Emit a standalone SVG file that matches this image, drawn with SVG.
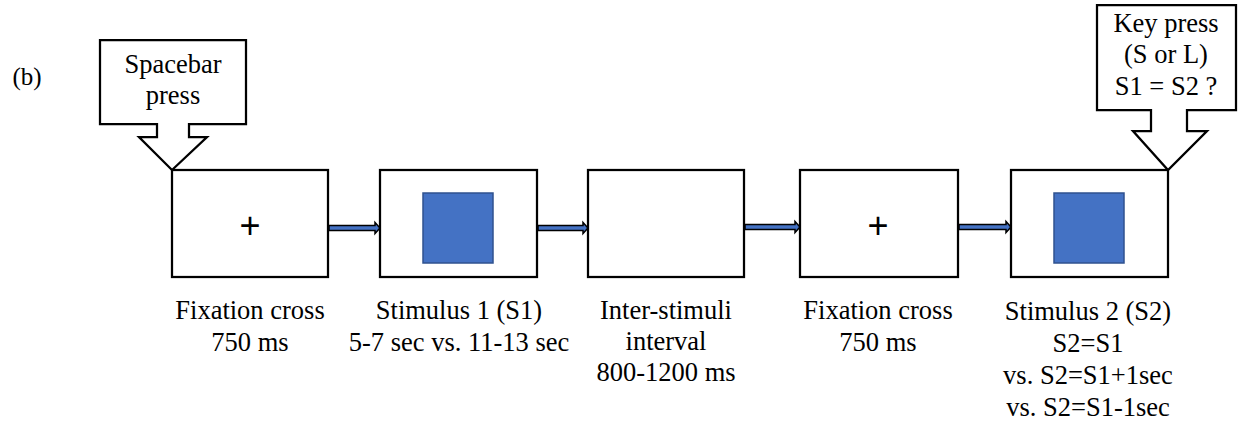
<svg xmlns="http://www.w3.org/2000/svg" width="1246" height="425" viewBox="0 0 1246 425">
<style>
.box{fill:#fff;stroke:#000;stroke-width:2.25}
.sq{fill:#4472C4;stroke:#2F528F;stroke-width:1.5}
.call{fill:#fff;stroke:#000;stroke-width:2.25;stroke-linejoin:miter}
.arr{fill:#4472C4;stroke:#000;stroke-width:1.5;stroke-linejoin:miter}
.t{font-family:'Liberation Serif','Times New Roman',serif;font-size:26.5px;fill:#000;text-anchor:middle}
.plus{font-family:'Liberation Sans',Arial,sans-serif;font-size:36px;fill:#000;text-anchor:middle}
</style>
<rect width="1246" height="425" fill="#fff"/>
<text x="27" y="85" class="t" style="font-size:25px">(b)</text>

<g id="connectors">
<polygon class="arr" points="329,225.5 375,225.5 375,222.5 380,228 375,233.5 375,230.5 329,230.5"/>
<polygon class="arr" points="538,225.5 583,225.5 583,222.5 588,228 583,233.5 583,230.5 538,230.5"/>
<polygon class="arr" points="745,224.5 795,224.5 795,221.5 800,227 795,232.5 795,229.5 745,229.5"/>
<polygon class="arr" points="959,224.5 1006,224.5 1006,221.5 1011,227 1006,232.5 1006,229.5 959,229.5"/>
</g>

<g id="callout-spacebar">
<polygon class="call" points="100,40 246,40 246,124 189,124 189,137 207,137 172,170 139,137 157,137 157,124 100,124"/>
<text x="173" y="73" class="t">Spacebar</text>
<text x="173" y="104" class="t">press</text>
</g>

<g id="callout-keypress">
<polygon class="call" points="1097,5 1236,5 1236,110 1187,110 1187,131 1207,131 1168,170 1133,131 1151,131 1151,110 1097,110"/>
<text x="1166" y="32" class="t">Key press</text>
<text x="1166" y="63" class="t">(S or L)</text>
<text x="1166" y="95" class="t">S1 = S2 ?</text>
</g>

<g id="node-fixation1">
<rect class="box" x="172" y="170" width="156" height="107"/>
<text x="250" y="238" class="plus">+</text>
<text x="250" y="319" class="t">Fixation cross</text>
<text x="250" y="351" class="t">750 ms</text>
</g>

<g id="node-stimulus1">
<rect class="box" x="380" y="170" width="157" height="107"/>
<rect class="sq" x="423" y="193" width="70" height="70"/>
<text x="459" y="319" class="t">Stimulus 1 (S1)</text>
<text x="459" y="351" class="t">5-7 sec vs. 11-13 sec</text>
</g>

<g id="node-isi">
<rect class="box" x="588" y="170" width="156" height="107"/>
<text x="666" y="319" class="t">Inter-stimuli</text>
<text x="666" y="350" class="t">interval</text>
<text x="666" y="381" class="t">800-1200 ms</text>
</g>

<g id="node-fixation2">
<rect class="box" x="800" y="170" width="158" height="107"/>
<text x="878" y="238" class="plus">+</text>
<text x="878" y="319" class="t">Fixation cross</text>
<text x="878" y="351" class="t">750 ms</text>
</g>

<g id="node-stimulus2">
<rect class="box" x="1011" y="170" width="157" height="107"/>
<rect class="sq" x="1054" y="193" width="70" height="70"/>
<text x="1088" y="320" class="t">Stimulus 2 (S2)</text>
<text x="1088" y="352" class="t">S2=S1</text>
<text x="1088" y="384" class="t">vs. S2=S1+1sec</text>
<text x="1088" y="416" class="t">vs. S2=S1-1sec</text>
</g>
</svg>
